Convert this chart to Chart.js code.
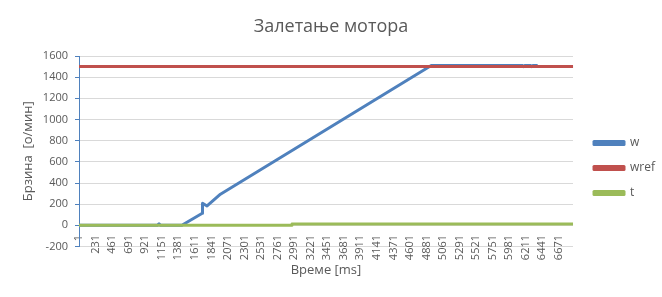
<!DOCTYPE html>
<html>
<head>
<meta charset="utf-8">
<script src="https://cdn.jsdelivr.net/npm/chart.js@4.4.1/dist/chart.umd.min.js"></script>
<style>
html,body{margin:0;padding:0;background:#ffffff;}
#wrap{width:662px;height:297px;}
</style>
</head>
<body>
<div id="wrap"><canvas id="c" width="662" height="297"></canvas></div>
<script>
// ---- data (x = time in ms) ----
const wTimes  = [1, 1090, 1113, 1135, 1431, 1715, 1718, 1781, 1967, 4897, 6167, 6180, 6195, 6279, 6290, 6307, 6363, 6375, 6868];
const wValues = [0, 0,    15,   0,    0,    114,  209,  183,  294,  1510, 1510, 1500, 1510, 1510, 1500, 1510, 1510, 1500, 1500];

const wrefTimes  = [1, 6868];
const wrefValues = [1500, 1500];

const tTimes  = [1, 2961, 2962, 6868];
const tValues = [0, 0, 12, 12];

const xTickValues = [1,231,461,691,921,1151,1381,1611,1841,2071,2301,2531,2761,2991,3221,3451,3681,3911,4141,4371,4601,4831,5061,5291,5521,5751,5981,6211,6441,6671];
const xTickLabels = ['1','231','461','691','921','1151','1381','1611','1841','2071','2301','2531','2761','2991','3221','3451','3681','3911','4141','4371','4601','4881','5061','5291','5521','5751','5981','6211','6441','6671'];
const yTickValues = [-200,0,200,400,600,800,1000,1200,1400,1600];

const seriesNames = ['w', 'wref', 't'];
const chartTitle = 'Залетање мотора';
const xTitle = 'Време [ms]';
const yTitle = 'Брзина  [о/мин]';

const toPoints = (xs, ys) => xs.map((x, i) => ({x: x, y: ys[i]}));

const TEXT = '#595959';
const FONT = 'Open Sans';
Chart.defaults.font.family = FONT;

// moves the legend block and title to where the reference has them
const blockNudge = {
  id: 'blockNudge',
  afterLayout(chart) {
    const l = chart.legend;
    if (l) { l.left += 8; l.right += 8; l.top += 28; l.bottom += 28; }
    const t = chart.titleBlock;
    if (t) { t.left += 2.5; t.right += 2.5; }
  }
};

new Chart(document.getElementById('c'), {
  type: 'line',
  plugins: [blockNudge],
  data: {
    datasets: [
      {label: seriesNames[0], data: toPoints(wTimes, wValues), borderColor: '#4F81BD', backgroundColor: '#4F81BD', order: 3},
      {label: seriesNames[1], data: toPoints(wrefTimes, wrefValues), borderColor: '#C0504D', backgroundColor: '#C0504D', order: 2},
      {label: seriesNames[2], data: toPoints(tTimes, tValues), borderColor: '#9BBB59', backgroundColor: '#9BBB59', order: 1}
    ]
  },
  options: {
    responsive: false,
    animation: false,
    elements: {
      point: {radius: 0, hoverRadius: 0},
      line: {borderWidth: 3, tension: 0, borderCapStyle: 'round', borderJoinStyle: 'round', fill: false}
    },
    layout: {padding: {left: 0, right: 5, top: 0, bottom: 50.5}},
    plugins: {
      title: {
        display: true, text: chartTitle, color: TEXT,
        font: {family: FONT, size: 18, weight: 'normal'},
        padding: {top: 16, bottom: 18.4}
      },
      legend: {
        position: 'right', align: 'center',
        title: {display: true, text: ' ', font: {size: 12}, padding: {top: 10, bottom: 9}},
        labels: {
          boxWidth: 30, boxHeight: 3, padding: 13, color: TEXT,
          font: {family: FONT, size: 12},
          sort: (a, b) => a.datasetIndex - b.datasetIndex
        }
      },
      tooltip: {enabled: false}
    },
    scales: {
      x: {
        type: 'linear', position: {y: -200}, min: 1, max: 6868,
        grid: {display: false, drawTicks: false},
        border: {display: false},
        afterBuildTicks: s => { s.ticks = xTickValues.map(v => ({value: v})); },
        afterFit: s => { s.height = 50.5; },
        ticks: {
          autoSkip: false, minRotation: 90, maxRotation: 90, padding: -11.5,
          color: TEXT, font: {family: FONT, size: 11},
          callback: (v, i) => xTickLabels[i]
        },
        title: {display: true, text: xTitle, color: TEXT, font: {family: FONT, size: 13}, padding: {top: 0, bottom: 19}}
      },
      y: {
        min: -200, max: 1600,
        afterBuildTicks: s => { s.ticks = yTickValues.map(v => ({value: v})); },
        afterFit: s => { s.width = 79; },
        grid: {color: '#D9D9D9', lineWidth: 1, tickColor: '#4F81BD', tickLength: 4, drawTicks: true},
        border: {display: true, color: '#4F81BD', width: 1},
        ticks: {padding: 7, color: TEXT, font: {family: FONT, size: 11}, callback: v => String(v)},
        title: {display: true, text: yTitle, color: TEXT, font: {family: FONT, size: 13}, padding: {top: 20, bottom: 0}}
      }
    }
  }
});
</script>
</body>
</html>
